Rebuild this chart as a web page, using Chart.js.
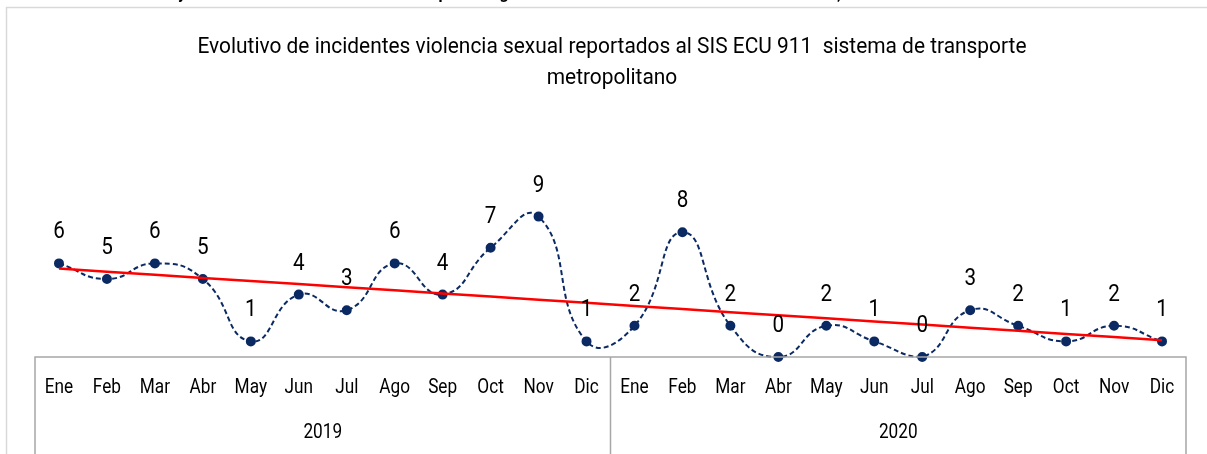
<!DOCTYPE html>
<html>
<head>
<meta charset="utf-8">
<title>Evolutivo violencia sexual transporte</title>
<script src="https://cdn.jsdelivr.net/npm/chart.js@4.4.1/dist/chart.umd.min.js"></script>
<style>
    html, body { margin: 0; padding: 0; background: #ffffff; }
    #wrap { position: relative; width: 1207px; height: 454px; }
</style>
</head>
<body>
<div id="wrap"><canvas id="chartIncidentes" width="1207" height="454"></canvas></div>
<script>
var meses = ['Ene', 'Feb', 'Mar', 'Abr', 'May', 'Jun', 'Jul', 'Ago', 'Sep', 'Oct', 'Nov', 'Dic'];
var anios = ['2019', '2020'];
var incidentes2019 = [6, 5, 6, 5, 1, 4, 3, 6, 4, 7, 9, 1];
var incidentes2020 = [2, 8, 2, 0, 2, 1, 0, 3, 2, 1, 2, 1];
var tituloLineas = ['Evolutivo de incidentes violencia sexual reportados al SIS ECU 911  sistema de transporte', 'metropolitano'];

var serie = incidentes2019.concat(incidentes2020);
var etiquetas = [];
for (var a = 0; a < anios.length; a++) {
    for (var m = 0; m < meses.length; m++) {
        etiquetas.push(meses[m] + ' ' + anios[a]);
    }
}

// linea de tendencia lineal (minimos cuadrados) como en excel
function tendencia(vals) {
    var n = vals.length, sx = 0, sy = 0, sxy = 0, sxx = 0;
    for (var i = 0; i < n; i++) {
        sx += i; sy += vals[i]; sxy += i * vals[i]; sxx += i * i;
    }
    var b = (n * sxy - sx * sy) / (n * sxx - sx * sx);
    var c = (sy - b * sx) / n;
    var out = [];
    for (var j = 0; j < n; j++) { out.push(c + b * j); }
    return out;
}

var FUENTE = 'Roboto, "Liberation Sans", sans-serif';

// texto con escala horizontal para simular una fuente condensada
function textoCondensado(ctx, txt, x, y, size, escala) {
    ctx.save();
    ctx.font = size + 'px ' + FUENTE;
    ctx.translate(x, y);
    ctx.scale(escala, 1);
    ctx.fillText(txt, 0, 0);
    ctx.restore();
}

var decoracion = {
    id: 'decoracion',
    beforeDraw: function (chart) {
        var ctx = chart.ctx;
        ctx.save();
        // texto del documento cortado arriba
        ctx.fillStyle = '#000000';
        ctx.textAlign = 'center';
        ctx.textBaseline = 'alphabetic';
        ctx.font = 'bold 16px ' + FUENTE;
        ctx.fillText('y', 182, -1);
        ctx.fillText('p', 443, -1);
        ctx.fillText('g', 504, -1);
        ctx.fillText(',', 839, -1);
        // borde exterior
        ctx.strokeStyle = '#d9d9d9';
        ctx.lineWidth = 1.5;
        ctx.beginPath();
        ctx.moveTo(6.5, 454);
        ctx.lineTo(6.5, 7.5);
        ctx.lineTo(1207, 7.5);
        ctx.stroke();
        // titulo
        ctx.fillStyle = '#000000';
        ctx.textBaseline = 'middle';
        textoCondensado(ctx, tituloLineas[0], 612, 47, 22, 0.95);
        textoCondensado(ctx, tituloLineas[1], 612, 78, 22, 0.95);
        ctx.restore();
    },
    afterDraw: function (chart) {
        var ctx = chart.ctx;
        var xs = chart.scales.x, ys = chart.scales.y;
        var area = chart.chartArea;
        var y0 = ys.getPixelForValue(0);
        var paso = xs.getPixelForValue(1) - xs.getPixelForValue(0);
        ctx.save();
        // caja del eje de categorias
        ctx.strokeStyle = '#a6a6a6';
        ctx.lineWidth = 1.5;
        ctx.beginPath();
        ctx.moveTo(area.left, 454);
        ctx.lineTo(area.left, y0);
        ctx.lineTo(area.right, y0);
        ctx.lineTo(area.right, 454);
        for (var a = 1; a < anios.length; a++) {
            var xd = xs.getPixelForValue(a * meses.length) - paso / 2;
            ctx.moveTo(xd, y0);
            ctx.lineTo(xd, 454);
        }
        ctx.stroke();

        ctx.fillStyle = '#000000';
        ctx.textAlign = 'center';
        ctx.textBaseline = 'middle';
        for (var i = 0; i < serie.length; i++) {
            textoCondensado(ctx, meses[i % meses.length], xs.getPixelForValue(i), 388, 21, 0.82);
        }
        for (var k = 0; k < anios.length; k++) {
            var xa = (xs.getPixelForValue(k * meses.length) + xs.getPixelForValue((k + 1) * meses.length - 1)) / 2;
            textoCondensado(ctx, anios[k], xa, 433, 21, 0.82);
        }

        // etiquetas de datos
        var meta = chart.getDatasetMeta(1);
        meta.data.forEach(function (pt, idx) {
            textoCondensado(ctx, String(serie[idx]), pt.x, pt.y - 31, 24, 0.86);
        });
        ctx.restore();
    }
};

var ctx = document.getElementById('chartIncidentes').getContext('2d');
var grafico = new Chart(ctx, {
    type: 'line',
    data: {
        labels: etiquetas,
        datasets: [
            {
                label: 'Lineal',
                data: tendencia(serie),
                borderColor: '#ff0000',
                borderWidth: 2.5,
                pointRadius: 0,
                tension: 0,
                fill: false
            },
            {
                label: 'Incidentes',
                data: serie,
                borderColor: '#0b2a63',
                borderWidth: 2,
                borderDash: [5, 3],
                backgroundColor: '#0b2a63',
                pointBackgroundColor: '#0b2a63',
                pointBorderColor: '#0b2a63',
                pointRadius: 4,
                tension: 0.5,
                fill: false,
                clip: false
            }
        ]
    },
    options: {
        responsive: false,
        animation: false,
        layout: { padding: { top: 201, bottom: 97, left: 35, right: 21 } },
        plugins: {
            legend: { display: false },
            title: { display: false },
            tooltip: { enabled: false }
        },
        scales: {
            x: { display: false, offset: true },
            y: { display: false, min: 0, max: 10 }
        }
    },
    plugins: [decoracion]
});
</script>
</body>
</html>
